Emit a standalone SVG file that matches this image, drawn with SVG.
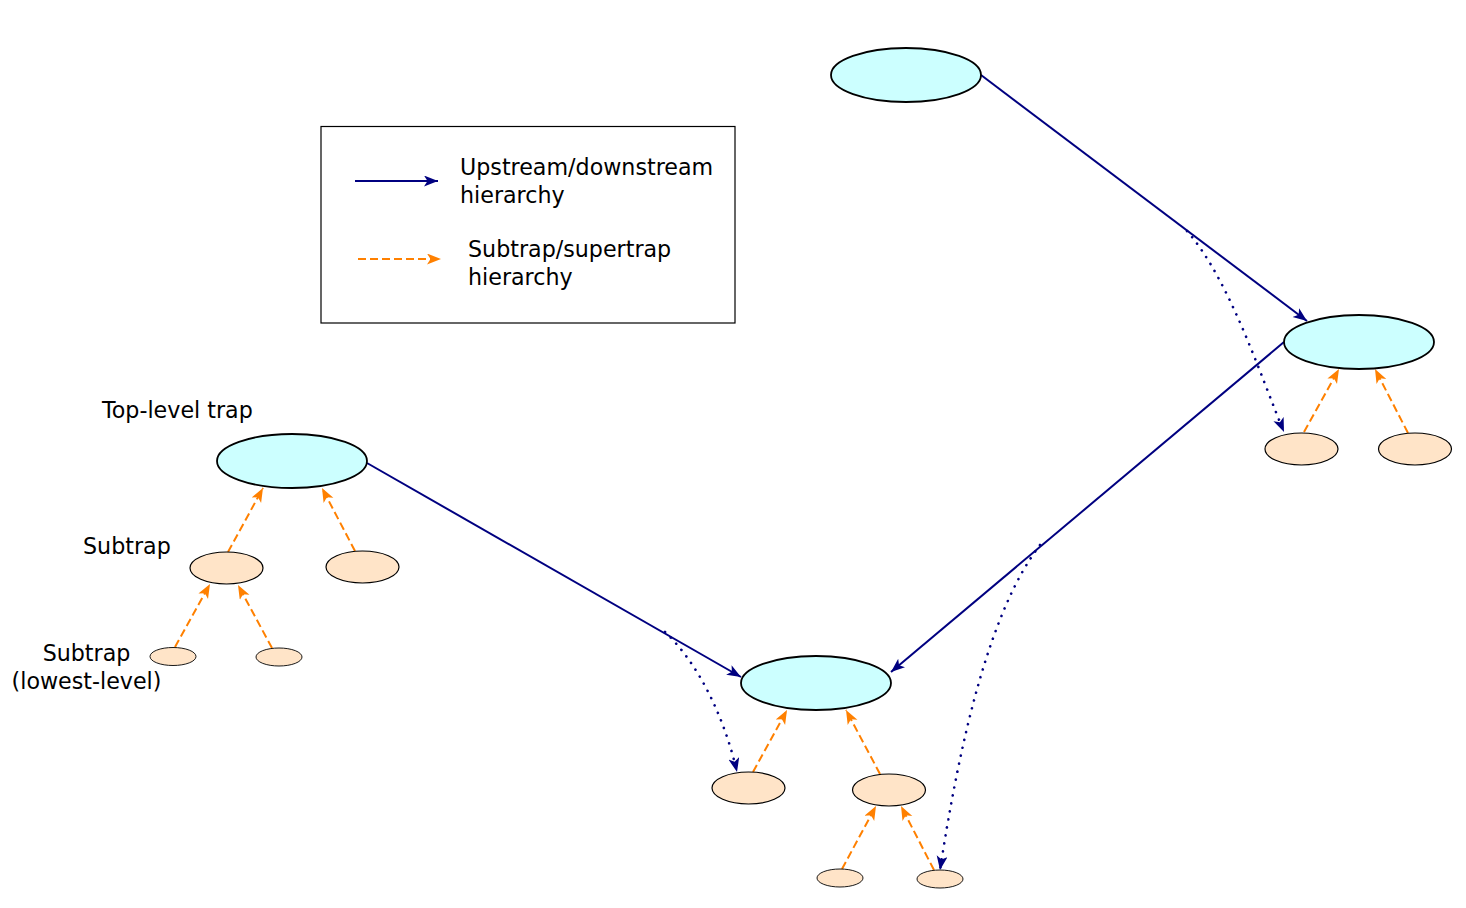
<svg xmlns="http://www.w3.org/2000/svg" width="1466" height="908" viewBox="0 0 1466 908">
<style>
.big{fill:#ccffff;stroke:#000;stroke-width:1.8}
.mid{fill:#ffe4c8;stroke:#000;stroke-width:1.2}
.sm{fill:#ffe4c8;stroke:#000;stroke-width:0.9}
.up{fill:none;stroke:#000080;stroke-width:2}
.dot{fill:none;stroke:#000080;stroke-width:2.6;stroke-dasharray:0.1 8;stroke-linecap:round}
.sub{fill:none;stroke:#ff8000;stroke-width:2;stroke-dasharray:8 4}
text{font-family:"DejaVu Sans",sans-serif;font-size:22.2px;fill:#000}
</style>
<defs>
<marker id="ab" markerUnits="userSpaceOnUse" markerWidth="16" markerHeight="14" refX="14" refY="5.5" orient="auto">
<path d="M0,0 L14,5.5 L0,11 L3.5,5.5 z" fill="#000080"/>
</marker>
<marker id="ao" markerUnits="userSpaceOnUse" markerWidth="16" markerHeight="14" refX="14" refY="5.5" orient="auto">
<path d="M0,0 L14,5.5 L0,11 L3.5,5.5 z" fill="#ff8000"/>
</marker>
</defs>
<g id="legend">
<rect x="321" y="126.5" width="414" height="196.5" fill="#fff" stroke="#000" stroke-width="1.2"/>
<line x1="355" y1="181" x2="438" y2="181" class="up" marker-end="url(#ab)"/>
<line x1="358" y1="259" x2="441" y2="259" class="sub" marker-end="url(#ao)"/>
<text x="460" y="175">Upstream/downstream</text>
<text x="460" y="203">hierarchy</text>
<text x="468" y="257">Subtrap/supertrap</text>
<text x="468" y="285">hierarchy</text>
</g>
<g id="labels">
<text x="102" y="418">Top-level trap</text>
<text x="83" y="554">Subtrap</text>
<text x="86.5" y="661" text-anchor="middle">Subtrap</text>
<text x="86.5" y="689" text-anchor="middle">(lowest-level)</text>
</g>
<g id="connectors">
<line x1="981" y1="75" x2="1307" y2="321" class="up" marker-end="url(#ab)"/>
<line x1="1284" y1="342" x2="891" y2="672" class="up" marker-end="url(#ab)"/>
<line x1="367" y1="463" x2="741" y2="677" class="up" marker-end="url(#ab)"/>
<path d="M1187,231 C1230,280 1262,380 1284,432" class="dot" marker-end="url(#ab)"/>
<path d="M1040,545 C990,610 960,740 940,870" class="dot" marker-end="url(#ab)"/>
<path d="M665,632 C700,665 725,720 737,772" class="dot" marker-end="url(#ab)"/>
<line x1="1304" y1="432" x2="1339" y2="369" class="sub" marker-end="url(#ao)"/>
<line x1="1408" y1="433" x2="1375" y2="369" class="sub" marker-end="url(#ao)"/>
<line x1="228" y1="552" x2="263" y2="488" class="sub" marker-end="url(#ao)"/>
<line x1="355" y1="551" x2="322" y2="488" class="sub" marker-end="url(#ao)"/>
<line x1="175" y1="647" x2="210" y2="584" class="sub" marker-end="url(#ao)"/>
<line x1="272" y1="648" x2="238" y2="585" class="sub" marker-end="url(#ao)"/>
<line x1="753" y1="772" x2="787" y2="710" class="sub" marker-end="url(#ao)"/>
<line x1="880" y1="774" x2="846" y2="710" class="sub" marker-end="url(#ao)"/>
<line x1="842" y1="869" x2="876" y2="806" class="sub" marker-end="url(#ao)"/>
<line x1="934" y1="870" x2="901" y2="806" class="sub" marker-end="url(#ao)"/>
</g>
<g id="n1"><ellipse cx="906" cy="75" rx="75" ry="27" class="big"/></g>
<g id="n2"><ellipse cx="1359" cy="342" rx="75" ry="27" class="big"/></g>
<g id="n3"><ellipse cx="292" cy="461" rx="75" ry="27" class="big"/></g>
<g id="n4"><ellipse cx="816" cy="683" rx="75" ry="27" class="big"/></g>
<g id="p1"><ellipse cx="1301.5" cy="449" rx="36.5" ry="16" class="mid"/></g>
<g id="p2"><ellipse cx="1415" cy="449" rx="36.5" ry="16" class="mid"/></g>
<g id="p3"><ellipse cx="226.5" cy="568" rx="36.5" ry="16" class="mid"/></g>
<g id="p4"><ellipse cx="362.5" cy="567" rx="36.5" ry="16" class="mid"/></g>
<g id="p5"><ellipse cx="748.5" cy="788" rx="36.5" ry="16" class="mid"/></g>
<g id="p6"><ellipse cx="889" cy="790" rx="36.5" ry="16" class="mid"/></g>
<g id="s1"><ellipse cx="173" cy="656.5" rx="23" ry="9" class="sm"/></g>
<g id="s2"><ellipse cx="279" cy="657" rx="23" ry="9" class="sm"/></g>
<g id="s3"><ellipse cx="840" cy="878" rx="23" ry="9" class="sm"/></g>
<g id="s4"><ellipse cx="940" cy="879" rx="23" ry="9" class="sm"/></g>
</svg>
